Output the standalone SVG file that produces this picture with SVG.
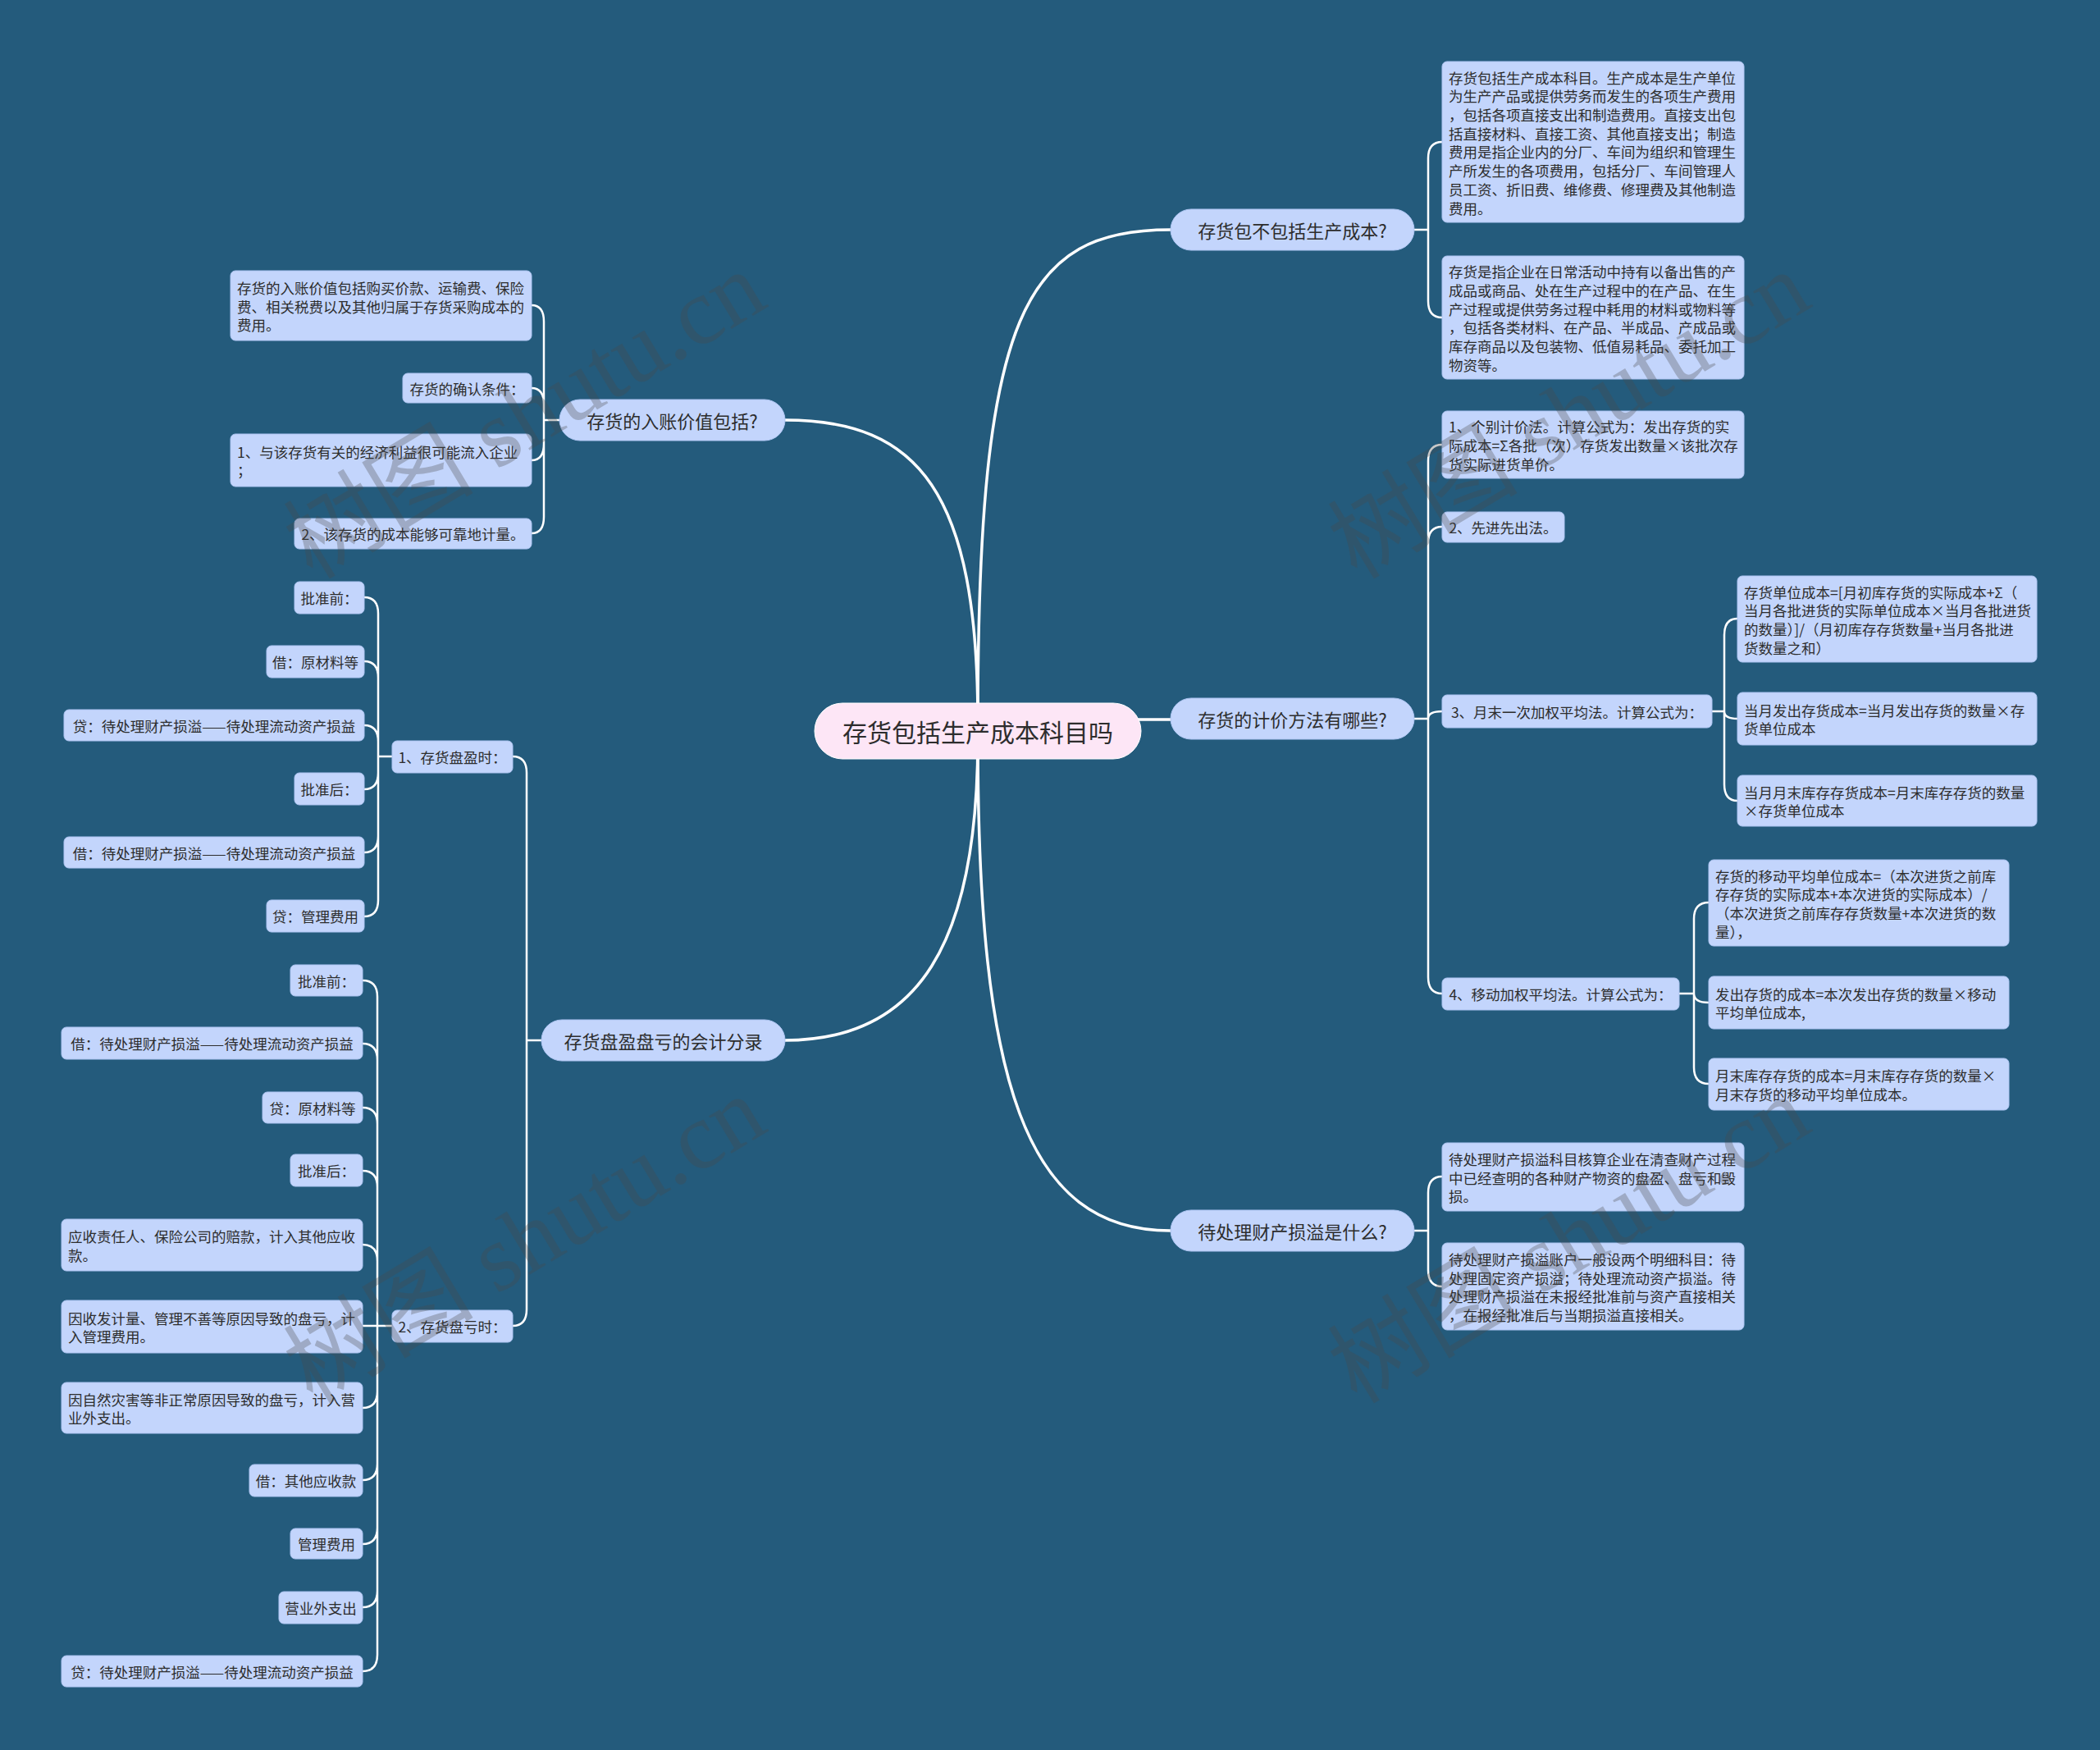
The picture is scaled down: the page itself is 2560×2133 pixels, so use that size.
<svg xmlns="http://www.w3.org/2000/svg" width="2560" height="2133" viewBox="0 0 2560 2133">
<style>
.t{font-family:"Noto Sans CJK SC","Noto Sans",sans-serif;fill:#2d2d2d;dominant-baseline:central}
.s{font-size:17.5px}
.m{font-size:22px;text-anchor:middle}
.c{font-size:30px;text-anchor:middle}
.mid{text-anchor:middle}
.leaf{fill:#c3d5fc;stroke:#aec5f2;stroke-width:1}
.main{fill:#c3d5fc;stroke:#aec5f2;stroke-width:1}
.lk{fill:none;stroke:#ffffff;stroke-width:2.5;stroke-linecap:round}
.lm{fill:none;stroke:#ffffff;stroke-width:3.5;stroke-linecap:round}
.wm{font-family:"Liberation Serif","Noto Sans CJK SC",serif;font-size:116px;fill:#4a4a4a;opacity:0.3}
</style>
<rect x="0" y="0" width="2560" height="2133" fill="#245b7c"/>
<g id="connectors">
<path class="lm" d="M1192,880 C1192,380 1250,280 1427,280"/>
<path class="lm" d="M1192,880 C1192,600 1120,512 957,512"/>
<path class="lm" d="M1380,877 H1427"/>
<path class="lm" d="M1192,900 C1192,1320 1250,1500 1427,1500"/>
<path class="lm" d="M1192,900 C1192,1150 1120,1268 957,1268"/>
<path class="lk" d="M1724,280 H1741 M1741,280 V193 Q1741,173 1758,173 M1741,280 V367 Q1741,387 1758,387"/>
<path class="lk" d="M1724,876 H1741 M1741,876 V562 Q1741,542 1758,542 M1741,876 V662 Q1741,642 1758,642 M1741,876 Q1741,867 1758,867 M1741,876 V1191 Q1741,1211 1758,1211"/>
<path class="lk" d="M2087,867 H2102 M2102,867 V774 Q2102,754 2118,754 M2102,867 Q2102,876 2118,876 M2102,867 V956 Q2102,976 2118,976"/>
<path class="lk" d="M2047,1211 H2065 M2065,1211 V1120 Q2065,1100 2083,1100 M2065,1211 Q2065,1222 2083,1222 M2065,1211 V1301 Q2065,1321 2083,1321"/>
<path class="lk" d="M1724,1500 H1741 M1741,1500 V1454 Q1741,1434 1758,1434 M1741,1500 V1548 Q1741,1568 1758,1568"/>
<path class="lk" d="M682,512 H663 M663,512 V392 Q663,372 648,372 M663,512 V493 Q663,473 648,473 M663,512 V541 Q663,561 648,561 M663,512 V630 Q663,650 648,650"/>
<path class="lk" d="M660,1268 H642 M642,1268 V942 Q642,922 625,922 M642,1268 V1596 Q642,1616 625,1616"/>
<path class="lk" d="M478,922 H461 M461,922 V748 Q461,728 444,728 M461,922 V826 Q461,806 444,806 M461,922 V904 Q461,884 444,884 M461,922 V942 Q461,962 444,962 M461,922 V1019 Q461,1039 444,1039 M461,922 V1097 Q461,1117 444,1117"/>
<path class="lk" d="M478,1616 H460 M460,1616 V1215 Q460,1195 442,1195 M460,1616 V1292 Q460,1272 442,1272 M460,1616 V1370 Q460,1350 442,1350 M460,1616 V1447 Q460,1427 442,1427 M460,1616 V1537 Q460,1517 442,1517 M460,1616 H442 M460,1616 V1696 Q460,1716 442,1716 M460,1616 V1784 Q460,1804 442,1804 M460,1616 V1862 Q460,1882 442,1882 M460,1616 V1939 Q460,1959 442,1959 M460,1616 V2017 Q460,2037 442,2037"/>
</g>
<g id="center">
<rect x="993" y="857" width="398" height="68" rx="34" fill="#fde6f6" stroke="#ffffff" stroke-width="1"/>
<text class="t c" x="1192" y="891">存货包括生产成本科目吗</text>
</g>
<g id="r1">
<rect class="main" x="1427" y="255" width="297" height="50" rx="25"/>
<text class="t m" x="1575.5" y="280">存货包不包括生产成本?</text>
</g>
<g id="r2">
<rect class="main" x="1427" y="851" width="297" height="50" rx="25"/>
<text class="t m" x="1575.5" y="876">存货的计价方法有哪些?</text>
</g>
<g id="r3">
<rect class="main" x="1427" y="1475" width="297" height="50" rx="25"/>
<text class="t m" x="1575.5" y="1500">待处理财产损溢是什么?</text>
</g>
<g id="l1">
<rect class="main" x="682" y="487" width="275" height="50" rx="25"/>
<text class="t m" x="819.5" y="512">存货的入账价值包括?</text>
</g>
<g id="l2">
<rect class="main" x="660" y="1243" width="297" height="50" rx="25"/>
<text class="t m" x="808.5" y="1268">存货盘盈盘亏的会计分录</text>
</g>
<g id="b1">
<rect class="leaf" x="1758" y="75" width="368" height="196" rx="6"/>
<text class="t s"><tspan x="1766" y="93.6">存货包括生产成本科目。生产成本是生产单位</tspan><tspan x="1766" y="116.3">为生产产品或提供劳务而发生的各项生产费用</tspan><tspan x="1766" y="139">，包括各项直接支出和制造费用。直接支出包</tspan><tspan x="1766" y="161.7">括直接材料、直接工资、其他直接支出；制造</tspan><tspan x="1766" y="184.4">费用是指企业内的分厂、车间为组织和管理生</tspan><tspan x="1766" y="207.1">产所发生的各项费用，包括分厂、车间管理人</tspan><tspan x="1766" y="229.8">员工资、折旧费、维修费、修理费及其他制造</tspan><tspan x="1766" y="252.5">费用。</tspan></text>
</g>
<g id="b2">
<rect class="leaf" x="1758" y="312" width="368" height="150" rx="6"/>
<text class="t s"><tspan x="1766" y="330.3">存货是指企业在日常活动中持有以备出售的产</tspan><tspan x="1766" y="353">成品或商品、处在生产过程中的在产品、在生</tspan><tspan x="1766" y="375.7">产过程或提供劳务过程中耗用的材料或物料等</tspan><tspan x="1766" y="398.4">，包括各类材料、在产品、半成品、产成品或</tspan><tspan x="1766" y="421.1">库存商品以及包装物、低值易耗品、委托加工</tspan><tspan x="1766" y="443.8">物资等。</tspan></text>
</g>
<g id="c1">
<rect class="leaf" x="1758" y="501" width="368" height="82" rx="6"/>
<text class="t s"><tspan x="1766" y="519.3">1、个别计价法。计算公式为：发出存货的实</tspan><tspan x="1766" y="542">际成本=Σ各批（次）存货发出数量×该批次存</tspan><tspan x="1766" y="564.7">货实际进货单价。</tspan></text>
</g>
<g id="c2">
<rect class="leaf" x="1758" y="624" width="149" height="37" rx="6"/>
<text class="t s mid" x="1832.5" y="642.5">2、先进先出法。</text>
</g>
<g id="c3">
<rect class="leaf" x="1758" y="847" width="329" height="40" rx="6"/>
<text class="t s mid" x="1922.5" y="867">3、月末一次加权平均法。计算公式为：</text>
</g>
<g id="c3a">
<rect class="leaf" x="2118" y="702" width="365" height="105" rx="6"/>
<text class="t s"><tspan x="2126" y="720.5">存货单位成本=[月初库存货的实际成本+Σ（</tspan><tspan x="2126" y="743.2">当月各批进货的实际单位成本×当月各批进货</tspan><tspan x="2126" y="765.9">的数量）]/（月初库存存货数量+当月各批进</tspan><tspan x="2126" y="788.6">货数量之和）</tspan></text>
</g>
<g id="c3b">
<rect class="leaf" x="2118" y="844" width="365" height="64" rx="6"/>
<text class="t s"><tspan x="2126" y="864.7">当月发出存货成本=当月发出存货的数量×存</tspan><tspan x="2126" y="887.4">货单位成本</tspan></text>
</g>
<g id="c3c">
<rect class="leaf" x="2118" y="945" width="365" height="62" rx="6"/>
<text class="t s"><tspan x="2126" y="964.7">当月月末库存存货成本=月末库存存货的数量</tspan><tspan x="2126" y="987.4">×存货单位成本</tspan></text>
</g>
<g id="c4">
<rect class="leaf" x="1758" y="1192" width="289" height="39" rx="6"/>
<text class="t s mid" x="1902.5" y="1211.5">4、移动加权平均法。计算公式为：</text>
</g>
<g id="c4a">
<rect class="leaf" x="2083" y="1048" width="366" height="105" rx="6"/>
<text class="t s"><tspan x="2091" y="1066.5">存货的移动平均单位成本=（本次进货之前库</tspan><tspan x="2091" y="1089.2">存存货的实际成本+本次进货的实际成本）/</tspan><tspan x="2091" y="1111.9">（本次进货之前库存存货数量+本次进货的数</tspan><tspan x="2091" y="1134.6">量），</tspan></text>
</g>
<g id="c4b">
<rect class="leaf" x="2083" y="1190" width="366" height="64" rx="6"/>
<text class="t s"><tspan x="2091" y="1210.7">发出存货的成本=本次发出存货的数量×移动</tspan><tspan x="2091" y="1233.4">平均单位成本,</tspan></text>
</g>
<g id="c4c">
<rect class="leaf" x="2083" y="1290" width="366" height="63" rx="6"/>
<text class="t s"><tspan x="2091" y="1310.2">月末库存存货的成本=月末库存存货的数量×</tspan><tspan x="2091" y="1332.9">月末存货的移动平均单位成本。</tspan></text>
</g>
<g id="d1">
<rect class="leaf" x="1758" y="1393" width="368" height="83" rx="6"/>
<text class="t s"><tspan x="1766" y="1411.8">待处理财产损溢科目核算企业在清查财产过程</tspan><tspan x="1766" y="1434.5">中已经查明的各种财产物资的盘盈、盘亏和毁</tspan><tspan x="1766" y="1457.2">损。</tspan></text>
</g>
<g id="d2">
<rect class="leaf" x="1758" y="1515" width="368" height="106" rx="6"/>
<text class="t s"><tspan x="1766" y="1534">待处理财产损溢账户一般设两个明细科目：待</tspan><tspan x="1766" y="1556.7">处理固定资产损溢；待处理流动资产损溢。待</tspan><tspan x="1766" y="1579.4">处理财产损溢在未报经批准前与资产直接相关</tspan><tspan x="1766" y="1602.1">，在报经批准后与当期损溢直接相关。</tspan></text>
</g>
<g id="e1">
<rect class="leaf" x="281" y="330" width="367" height="85" rx="6"/>
<text class="t s"><tspan x="289" y="349.8">存货的入账价值包括购买价款、运输费、保险</tspan><tspan x="289" y="372.5">费、相关税费以及其他归属于存货采购成本的</tspan><tspan x="289" y="395.2">费用。</tspan></text>
</g>
<g id="e2">
<rect class="leaf" x="491" y="455" width="157" height="36" rx="6"/>
<text class="t s mid" x="569.5" y="473">存货的确认条件：</text>
</g>
<g id="e3">
<rect class="leaf" x="281" y="529" width="367" height="64" rx="6"/>
<text class="t s"><tspan x="289" y="549.7">1、与该存货有关的经济利益很可能流入企业</tspan><tspan x="289" y="572.4">；</tspan></text>
</g>
<g id="e4">
<rect class="leaf" x="359" y="632" width="289" height="37" rx="6"/>
<text class="t s mid" x="503.5" y="650.5">2、该存货的成本能够可靠地计量。</text>
</g>
<g id="p">
<rect class="leaf" x="478" y="903" width="147" height="39" rx="6"/>
<text class="t s mid" x="551.5" y="922.5">1、存货盘盈时：</text>
</g>
<g id="p1">
<rect class="leaf" x="359" y="709" width="85" height="39" rx="6"/>
<text class="t s mid" x="401.5" y="728.5">批准前：</text>
</g>
<g id="p2">
<rect class="leaf" x="325" y="787" width="119" height="39" rx="6"/>
<text class="t s mid" x="384.5" y="806.5">借：原材料等</text>
</g>
<g id="p3">
<rect class="leaf" x="78" y="865" width="366" height="38" rx="6"/>
<text class="t s mid" x="261" y="884">贷：待处理财产损溢——待处理流动资产损益</text>
</g>
<g id="p4">
<rect class="leaf" x="359" y="942" width="85" height="39" rx="6"/>
<text class="t s mid" x="401.5" y="961.5">批准后：</text>
</g>
<g id="p5">
<rect class="leaf" x="78" y="1020" width="366" height="38" rx="6"/>
<text class="t s mid" x="261" y="1039">借：待处理财产损溢——待处理流动资产损益</text>
</g>
<g id="p6">
<rect class="leaf" x="325" y="1097" width="119" height="39" rx="6"/>
<text class="t s mid" x="384.5" y="1116.5">贷：管理费用</text>
</g>
<g id="q">
<rect class="leaf" x="478" y="1597" width="147" height="39" rx="6"/>
<text class="t s mid" x="551.5" y="1616.5">2、存货盘亏时：</text>
</g>
<g id="q1">
<rect class="leaf" x="354" y="1176" width="88" height="38" rx="6"/>
<text class="t s mid" x="398" y="1195">批准前：</text>
</g>
<g id="q2">
<rect class="leaf" x="75" y="1252" width="367" height="39" rx="6"/>
<text class="t s mid" x="258.5" y="1271.5">借：待处理财产损溢——待处理流动资产损益</text>
</g>
<g id="q3">
<rect class="leaf" x="320" y="1331" width="122" height="38" rx="6"/>
<text class="t s mid" x="381" y="1350">贷：原材料等</text>
</g>
<g id="q4">
<rect class="leaf" x="354" y="1407" width="88" height="39" rx="6"/>
<text class="t s mid" x="398" y="1426.5">批准后：</text>
</g>
<g id="q5">
<rect class="leaf" x="75" y="1486" width="367" height="63" rx="6"/>
<text class="t s"><tspan x="83" y="1506.2">应收责任人、保险公司的赔款，计入其他应收</tspan><tspan x="83" y="1528.9">款。</tspan></text>
</g>
<g id="q6">
<rect class="leaf" x="75" y="1585" width="367" height="64" rx="6"/>
<text class="t s"><tspan x="83" y="1605.7">因收发计量、管理不善等原因导致的盘亏，计</tspan><tspan x="83" y="1628.4">入管理费用。</tspan></text>
</g>
<g id="q7">
<rect class="leaf" x="75" y="1685" width="367" height="62" rx="6"/>
<text class="t s"><tspan x="83" y="1704.7">因自然灾害等非正常原因导致的盘亏，计入营</tspan><tspan x="83" y="1727.4">业外支出。</tspan></text>
</g>
<g id="q8">
<rect class="leaf" x="304" y="1785" width="138" height="39" rx="6"/>
<text class="t s mid" x="373" y="1804.5">借：其他应收款</text>
</g>
<g id="q9">
<rect class="leaf" x="354" y="1863" width="88" height="37" rx="6"/>
<text class="t s mid" x="398" y="1881.5">管理费用</text>
</g>
<g id="q10">
<rect class="leaf" x="340" y="1940" width="102" height="39" rx="6"/>
<text class="t s mid" x="391" y="1959.5">营业外支出</text>
</g>
<g id="q11">
<rect class="leaf" x="75" y="2018" width="367" height="38" rx="6"/>
<text class="t s mid" x="258.5" y="2037">贷：待处理财产损溢——待处理流动资产损益</text>
</g>
<g id="watermarks">
<text class="wm" text-anchor="middle" transform="translate(660,540) rotate(-31)">树图 shutu.cn</text>
<text class="wm" text-anchor="middle" transform="translate(1933,540) rotate(-31)">树图 shutu.cn</text>
<text class="wm" text-anchor="middle" transform="translate(660,1545) rotate(-31)">树图 shutu.cn</text>
<text class="wm" text-anchor="middle" transform="translate(1933,1545) rotate(-31)">树图 shutu.cn</text>
</g>
</svg>
